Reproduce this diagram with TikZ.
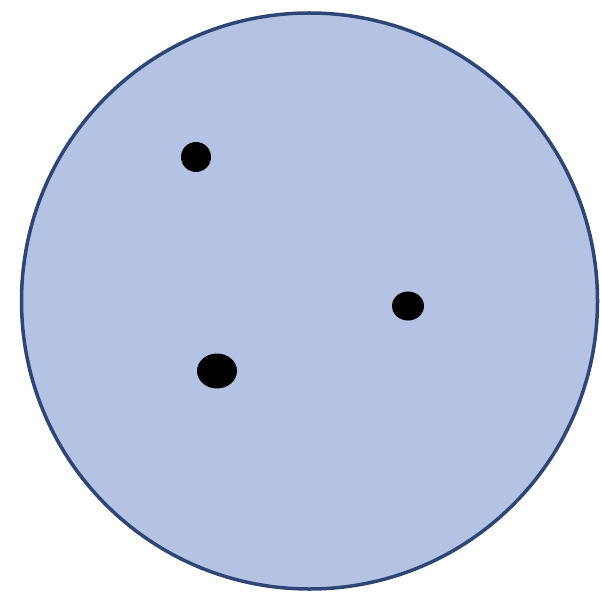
\documentclass[tikz,border=0pt]{standalone}
\definecolor{discfill}{RGB}{180,195,228}
\definecolor{discedge}{RGB}{45,70,118}
\begin{document}
\begin{tikzpicture}[x=1pt,y=-1pt,
  disc/.style={fill=discfill,draw=discedge,line width=3.5pt},
  blob/.style={fill=black,draw=none}]
\useasboundingbox (0,0) rectangle (600,601);
\path[disc] (309.5,301) circle (288);
\path[blob] (196,157) ellipse (15 and 15);
\path[blob] (408,306) ellipse (16 and 14.5);
\path[blob] (217,371) ellipse (20 and 17.5);
\end{tikzpicture}
\end{document}
